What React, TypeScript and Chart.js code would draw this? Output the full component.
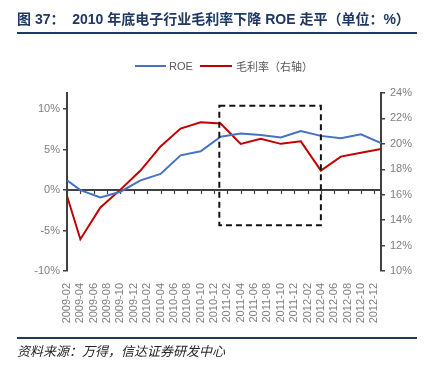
import React, { useEffect, useRef } from "react";
import { Chart, registerables } from "chart.js";

Chart.register(...registerables);

// ---- data ----
const AXIS_START = "2009-02";
const AXIS_END = "2013-01";
const X_LABELS = [
  "2009-02", "2009-04", "2009-06", "2009-08", "2009-10", "2009-12",
  "2010-02", "2010-04", "2010-06", "2010-08", "2010-10", "2010-12",
  "2011-02", "2011-04", "2011-06", "2011-08", "2011-10", "2011-12",
  "2012-02", "2012-04", "2012-06", "2012-08", "2012-10", "2012-12",
];
const PERIODS = [
  "2009-02", "2009-04", "2009-07", "2009-10", "2010-01", "2010-04",
  "2010-07", "2010-10", "2011-01", "2011-04", "2011-07", "2011-10",
  "2012-01", "2012-04", "2012-07", "2012-10", "2013-01",
];
const ROE = [1.2, 0.0, -0.9, -0.2, 1.2, 2.0, 4.3, 4.8, 6.6, 7.0, 6.8, 6.5, 7.3, 6.7, 6.4, 6.9, 5.8];
const GROSS_MARGIN = [15.9, 12.5, 15.0, 16.4, 17.9, 19.8, 21.2, 21.7, 21.6, 20.0, 20.4, 20.0, 20.2, 17.9, 19.0, 19.3, 19.6];
const LEFT_TICKS = [-10, -5, 0, 5, 10];
const RIGHT_TICKS = [10, 12, 14, 16, 18, 20, 22, 24];
const LEFT_MIN = -10;
const LEFT_MAX = 12;
const RIGHT_MIN = 10;
const RIGHT_MAX = 24;
// highlighted box (x in months from axis start, y on right axis)
const BOX_X = [22.8, 38];
const BOX_Y = [13.6, 23.0];

const TITLE = "图 37：  2010 年底电子行业毛利率下降 ROE 走平（单位：%）";
const SOURCE = "资料来源：万得，信达证券研发中心";
const SERIES_NAMES = ["ROE", "毛利率（右轴）"];
const COLORS = ["#4472C4", "#C00000"];

const monthIndex = (s: string) => {
  const [y, m] = s.split("-").map(Number);
  const [y0, m0] = AXIS_START.split("-").map(Number);
  return (y - y0) * 12 + (m - m0);
};

const AXIS_GREY = "#404040";
const LABEL_GREY = "#7f7f7f";

export default function App() {
  const ref = useRef<HTMLCanvasElement | null>(null);

  useEffect(() => {
    if (!ref.current) return;
    const tickVals = X_LABELS.map(monthIndex);

    const overlay = {
      id: "overlay",
      beforeDatasetsDraw(chart: any) {
        const { ctx, scales } = chart;
        const x = scales.x;
        const y = scales.y;
        const y0 = y.getPixelForValue(0);
        ctx.save();
        ctx.strokeStyle = AXIS_GREY;
        ctx.lineWidth = 2;
        ctx.beginPath();
        ctx.moveTo(chart.chartArea.left, y0);
        ctx.lineTo(chart.chartArea.right, y0);
        ctx.stroke();
        ctx.lineWidth = 1.2;
        tickVals.forEach((v) => {
          const px = Math.round(x.getPixelForValue(v)) + 0.5;
          ctx.beginPath();
          ctx.moveTo(px, y0);
          ctx.lineTo(px, y0 + 4);
          ctx.stroke();
        });
        ctx.restore();
      },
      afterDatasetsDraw(chart: any) {
        const { ctx, scales } = chart;
        const x1 = scales.x.getPixelForValue(BOX_X[0]);
        const x2 = scales.x.getPixelForValue(BOX_X[1]);
        const yt = scales.y1.getPixelForValue(BOX_Y[1]);
        const yb = scales.y1.getPixelForValue(BOX_Y[0]);
        ctx.save();
        ctx.strokeStyle = "#111";
        ctx.lineWidth = 2;
        ctx.setLineDash([6, 4]);
        ctx.strokeRect(x1, yt, x2 - x1, yb - yt);
        ctx.restore();
      },
    };

    const chart = new Chart(ref.current, {
      type: "line",
      data: {
        datasets: [
          {
            label: SERIES_NAMES[0],
            data: PERIODS.map((p, i) => ({ x: monthIndex(p), y: ROE[i] })),
            borderColor: COLORS[0],
            backgroundColor: COLORS[0],
            borderWidth: 2,
            pointRadius: 0,
            tension: 0,
            yAxisID: "y",
          },
          {
            label: SERIES_NAMES[1],
            data: PERIODS.map((p, i) => ({ x: monthIndex(p), y: GROSS_MARGIN[i] })),
            borderColor: COLORS[1],
            backgroundColor: COLORS[1],
            borderWidth: 2,
            pointRadius: 0,
            tension: 0,
            yAxisID: "y1",
          },
        ],
      },
      options: {
        responsive: false,
        animation: false,
        devicePixelRatio: 1,
        layout: { padding: { top: 93, left: 0, right: 0, bottom: 0 } },
        plugins: {
          legend: { display: false },
          tooltip: { enabled: false },
          title: { display: false },
        },
        scales: {
          x: {
            type: "linear",
            min: monthIndex(AXIS_START),
            max: monthIndex(AXIS_END),
            afterBuildTicks: (s: any) => {
              s.ticks = tickVals.map((v) => ({ value: v }));
            },
            afterFit: (s: any) => {
              s.height = 102;
            },
            grid: { display: false },
            border: { display: false },
            ticks: {
              autoSkip: false,
              minRotation: 90,
              maxRotation: 90,
              padding: 4,
              color: LABEL_GREY,
              font: { size: 11, family: "'Liberation Sans', Arial, sans-serif" },
              callback: (_v: any, i: number) => X_LABELS[i],
            },
          },
          y: {
            position: "left",
            min: LEFT_MIN,
            max: LEFT_MAX,
            afterBuildTicks: (s: any) => {
              s.ticks = LEFT_TICKS.map((v) => ({ value: v }));
            },
            afterFit: (s: any) => {
              s.width = 67;
            },
            grid: {
              drawOnChartArea: false,
              drawTicks: true,
              tickLength: 4,
              color: AXIS_GREY,
              lineWidth: 1.5,
            },
            border: { display: true, color: AXIS_GREY, width: 2 },
            ticks: {
              padding: 3,
              color: LABEL_GREY,
              font: { size: 11, family: "'Liberation Sans', Arial, sans-serif" },
              callback: (v: any) => v + "%",
            },
          },
          y1: {
            position: "right",
            min: RIGHT_MIN,
            max: RIGHT_MAX,
            afterBuildTicks: (s: any) => {
              s.ticks = RIGHT_TICKS.map((v) => ({ value: v }));
            },
            afterFit: (s: any) => {
              s.width = 48;
            },
            grid: {
              drawOnChartArea: false,
              drawTicks: true,
              tickLength: 4,
              color: AXIS_GREY,
              lineWidth: 1.5,
            },
            border: { display: true, color: AXIS_GREY, width: 2 },
            ticks: {
              padding: 5,
              color: LABEL_GREY,
              font: { size: 11, family: "'Liberation Sans', Arial, sans-serif" },
              callback: (v: any) => v + "%",
            },
          },
        },
      },
      plugins: [overlay],
    } as any);

    return () => chart.destroy();
  }, []);

  const navy = "#1F3864";

  return (
    <div
      style={{
        position: "fixed",
        left: 0,
        top: 0,
        width: 429,
        height: 373,
        background: "#fff",
        overflow: "hidden",
      }}
    >
      <canvas
        ref={ref}
        width={429}
        height={373}
        style={{ position: "absolute", left: 0, top: 0, width: 429, height: 373 }}
      />
      <div
        style={{
          position: "absolute",
          left: 17,
          top: 9,
          fontFamily: "'Liberation Sans', 'Noto Sans CJK SC', sans-serif",
          fontWeight: 700,
          fontSize: 14,
          lineHeight: "20px",
          color: navy,
          whiteSpace: "pre",
        }}
      >
        {TITLE}
      </div>
      <div style={{ position: "absolute", left: 17, top: 32, width: 400, height: 2, background: navy }} />
      {/* legend */}
      <div style={{ position: "absolute", left: 135, top: 65, width: 31, height: 2, background: COLORS[0] }} />
      <div
        style={{
          position: "absolute",
          left: 169,
          top: 58,
          fontFamily: "'Liberation Sans', 'Noto Sans CJK SC', sans-serif",
          fontSize: 11,
          lineHeight: "16px",
          color: "#595959",
          whiteSpace: "pre",
        }}
      >
        {SERIES_NAMES[0]}
      </div>
      <div style={{ position: "absolute", left: 200, top: 65, width: 32, height: 2, background: COLORS[1] }} />
      <div
        style={{
          position: "absolute",
          left: 236,
          top: 58,
          fontFamily: "'Noto Sans CJK SC', sans-serif",
          fontSize: 11,
          lineHeight: "16px",
          color: "#595959",
          whiteSpace: "pre",
        }}
      >
        {SERIES_NAMES[1]}
      </div>
      <div style={{ position: "absolute", left: 17, top: 337, width: 400, height: 2, background: navy }} />
      <div
        style={{
          position: "absolute",
          left: 17,
          top: 342,
          fontFamily: "'Noto Sans CJK SC', sans-serif",
          fontStyle: "italic",
          fontSize: 13,
          lineHeight: "18px",
          color: "#262626",
          whiteSpace: "pre",
        }}
      >
        {SOURCE}
      </div>
    </div>
  );
}
